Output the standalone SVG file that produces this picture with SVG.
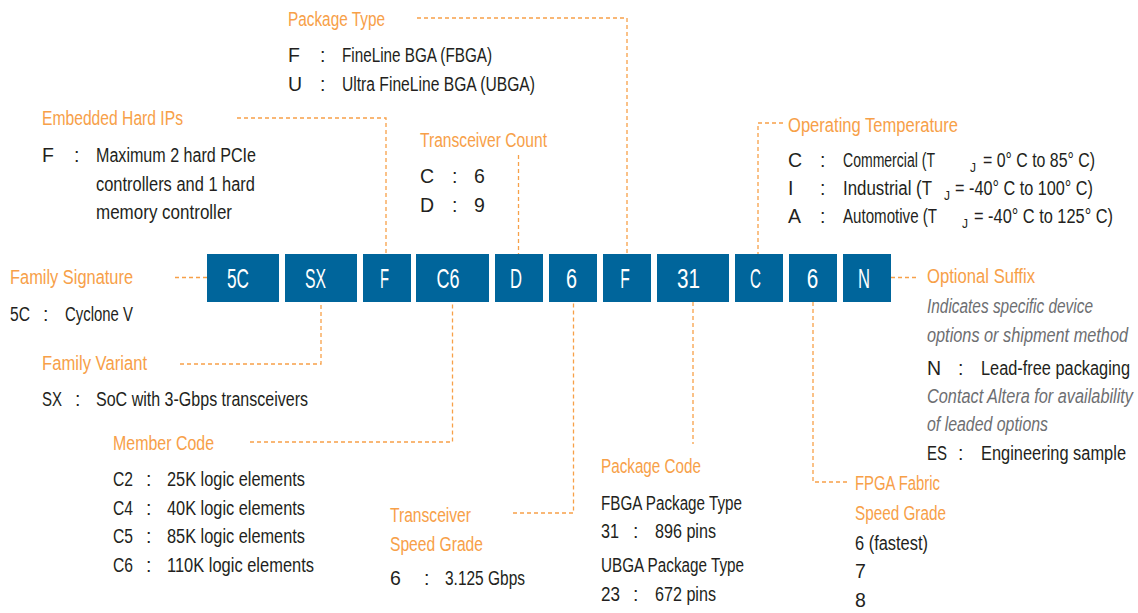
<svg xmlns="http://www.w3.org/2000/svg" width="1138" height="613" viewBox="0 0 1138 613">
<style>
text{font-family:"Liberation Sans Narrow","Liberation Sans",Arial,sans-serif;font-size:19.5px;fill:#231f20}
.h{fill:#f7a048}
.i{fill:#6d6e71;font-style:italic}
.sub{font-size:12px}
.box rect{fill:#00659b}
.box text{fill:#ffffff;font-size:28px;text-anchor:middle}
.c line,.c polyline{fill:none;stroke:#f7a048;stroke-width:1.3;stroke-dasharray:4 3}
</style>
<rect width="1138" height="613" fill="#ffffff"/>
<g class="c" id="connectors">
<polyline points="417,18 627,18 627,254"/>
<polyline points="237,118 386,118 386,254"/>
<line x1="518.5" y1="155" x2="518.5" y2="254"/>
<polyline points="783,123 758,123 758,254"/>
<line x1="175" y1="277.5" x2="207" y2="277.5"/>
<line x1="891" y1="277.5" x2="918" y2="277.5"/>
<polyline points="180,364 321,364 321,302"/>
<polyline points="250,442 452.5,442 452.5,302"/>
<polyline points="513,513 573.5,513 573.5,302"/>
<line x1="693" y1="302" x2="693" y2="444"/>
<polyline points="813,302 813,482 850,482"/>
</g>
<g class="box" id="box-5C"><rect x="207" y="254" width="72" height="48"/><text x="238" y="288" textLength="22" lengthAdjust="spacingAndGlyphs">5C</text></g>
<g class="box" id="box-SX"><rect x="285" y="254" width="72" height="48"/><text x="315.5" y="288" textLength="21" lengthAdjust="spacingAndGlyphs">SX</text></g>
<g class="box" id="box-F1"><rect x="363" y="254" width="48" height="48"/><text x="384.5" y="288" textLength="9" lengthAdjust="spacingAndGlyphs">F</text></g>
<g class="box" id="box-C6"><rect x="416" y="254" width="73" height="48"/><text x="448" y="288" textLength="23" lengthAdjust="spacingAndGlyphs">C6</text></g>
<g class="box" id="box-D"><rect x="495" y="254" width="48" height="48"/><text x="516" y="288" textLength="12" lengthAdjust="spacingAndGlyphs">D</text></g>
<g class="box" id="box-6a"><rect x="549" y="254" width="48" height="48"/><text x="571.5" y="288" textLength="11" lengthAdjust="spacingAndGlyphs">6</text></g>
<g class="box" id="box-F2"><rect x="603" y="254" width="48" height="48"/><text x="625" y="288" textLength="9.5" lengthAdjust="spacingAndGlyphs">F</text></g>
<g class="box" id="box-31"><rect x="657" y="254" width="72" height="48"/><text x="688.5" y="288" textLength="23" lengthAdjust="spacingAndGlyphs">31</text></g>
<g class="box" id="box-C"><rect x="735" y="254" width="48" height="48"/><text x="755.5" y="288" textLength="11" lengthAdjust="spacingAndGlyphs">C</text></g>
<g class="box" id="box-6b"><rect x="789" y="254" width="48" height="48"/><text x="812.5" y="288" textLength="11.5" lengthAdjust="spacingAndGlyphs">6</text></g>
<g class="box" id="box-N"><rect x="843" y="254" width="48" height="48"/><text x="864" y="288" textLength="12" lengthAdjust="spacingAndGlyphs">N</text></g>
<g id="package-type">
<text class="h" x="288" y="26" textLength="97" lengthAdjust="spacingAndGlyphs">Package Type</text>
<text x="288" y="62">F</text><text x="320" y="62">:</text><text x="342" y="62" textLength="150" lengthAdjust="spacingAndGlyphs">FineLine BGA (FBGA)</text>
<text x="288" y="91">U</text><text x="320" y="91">:</text><text x="342" y="91" textLength="193" lengthAdjust="spacingAndGlyphs">Ultra FineLine BGA (UBGA)</text>
</g>
<g id="embedded-hard-ips">
<text class="h" x="42" y="125" textLength="141" lengthAdjust="spacingAndGlyphs">Embedded Hard IPs</text>
<text x="42" y="162">F</text><text x="74" y="162">:</text>
<text x="96" y="162" textLength="160" lengthAdjust="spacingAndGlyphs">Maximum 2 hard PCIe</text>
<text x="96" y="190.5" textLength="159" lengthAdjust="spacingAndGlyphs">controllers and 1 hard</text>
<text x="96" y="219" textLength="136" lengthAdjust="spacingAndGlyphs">memory controller</text>
</g>
<g id="transceiver-count">
<text class="h" x="420" y="147" textLength="127" lengthAdjust="spacingAndGlyphs">Transceiver Count</text>
<text x="420" y="183">C</text><text x="452" y="183">:</text><text x="474" y="183">6</text>
<text x="420" y="212">D</text><text x="452" y="212">:</text><text x="474" y="212">9</text>
</g>
<g id="operating-temperature">
<text class="h" x="788" y="132" textLength="170" lengthAdjust="spacingAndGlyphs">Operating Temperature</text>
<text x="788" y="167">C</text><text x="820" y="167">:</text>
<text x="843" y="167" textLength="92" lengthAdjust="spacingAndGlyphs">Commercial (T</text><text class="sub" x="970" y="172">J</text>
<text x="983" y="167" textLength="112" lengthAdjust="spacingAndGlyphs">= 0° C to 85° C)</text>
<text x="788" y="195">I</text><text x="820" y="195">:</text>
<text x="843" y="195" textLength="89" lengthAdjust="spacingAndGlyphs">Industrial (T</text><text class="sub" x="944" y="200">J</text>
<text x="955" y="195" textLength="138" lengthAdjust="spacingAndGlyphs">= -40° C to 100° C)</text>
<text x="788" y="223">A</text><text x="820" y="223">:</text>
<text x="843" y="223" textLength="94" lengthAdjust="spacingAndGlyphs">Automotive (T</text><text class="sub" x="962" y="228">J</text>
<text x="974" y="223" textLength="139" lengthAdjust="spacingAndGlyphs">= -40° C to 125° C)</text>
</g>
<g id="family-signature">
<text class="h" x="10" y="284" textLength="123" lengthAdjust="spacingAndGlyphs">Family Signature</text>
<text x="10" y="321" textLength="20" lengthAdjust="spacingAndGlyphs">5C</text><text x="43" y="321">:</text>
<text x="65" y="321" textLength="68" lengthAdjust="spacingAndGlyphs">Cyclone V</text>
</g>
<g id="family-variant">
<text class="h" x="42" y="370" textLength="105" lengthAdjust="spacingAndGlyphs">Family Variant</text>
<text x="42" y="406" textLength="20" lengthAdjust="spacingAndGlyphs">SX</text><text x="75" y="406">:</text>
<text x="96" y="406" textLength="212" lengthAdjust="spacingAndGlyphs">SoC with 3-Gbps transceivers</text>
</g>
<g id="member-code">
<text class="h" x="113" y="450" textLength="101" lengthAdjust="spacingAndGlyphs">Member Code</text>
<text x="113" y="486" textLength="20" lengthAdjust="spacingAndGlyphs">C2</text><text x="146" y="486">:</text><text x="167" y="486" textLength="138" lengthAdjust="spacingAndGlyphs">25K logic elements</text>
<text x="113" y="515" textLength="20" lengthAdjust="spacingAndGlyphs">C4</text><text x="146" y="515">:</text><text x="167" y="515" textLength="138" lengthAdjust="spacingAndGlyphs">40K logic elements</text>
<text x="113" y="543" textLength="20" lengthAdjust="spacingAndGlyphs">C5</text><text x="146" y="543">:</text><text x="167" y="543" textLength="138" lengthAdjust="spacingAndGlyphs">85K logic elements</text>
<text x="113" y="572" textLength="20" lengthAdjust="spacingAndGlyphs">C6</text><text x="146" y="572">:</text><text x="167" y="572" textLength="147" lengthAdjust="spacingAndGlyphs">110K logic elements</text>
</g>
<g id="transceiver-speed-grade">
<text class="h" x="390" y="522" textLength="81" lengthAdjust="spacingAndGlyphs">Transceiver</text>
<text class="h" x="390" y="551" textLength="93" lengthAdjust="spacingAndGlyphs">Speed Grade</text>
<text x="390" y="585">6</text><text x="424" y="585">:</text>
<text x="445" y="585" textLength="80" lengthAdjust="spacingAndGlyphs">3.125 Gbps</text>
</g>
<g id="package-code">
<text class="h" x="601" y="473" textLength="100" lengthAdjust="spacingAndGlyphs">Package Code</text>
<text x="601" y="510" textLength="141" lengthAdjust="spacingAndGlyphs">FBGA Package Type</text>
<text x="601" y="538" textLength="18" lengthAdjust="spacingAndGlyphs">31</text><text x="633" y="538">:</text>
<text x="655" y="538" textLength="61" lengthAdjust="spacingAndGlyphs">896 pins</text>
<text x="601" y="572" textLength="143" lengthAdjust="spacingAndGlyphs">UBGA Package Type</text>
<text x="601" y="601" textLength="19" lengthAdjust="spacingAndGlyphs">23</text><text x="633" y="601">:</text>
<text x="655" y="601" textLength="61" lengthAdjust="spacingAndGlyphs">672 pins</text>
</g>
<g id="fpga-fabric-speed-grade">
<text class="h" x="855" y="490" textLength="85" lengthAdjust="spacingAndGlyphs">FPGA Fabric</text>
<text class="h" x="855" y="520" textLength="91" lengthAdjust="spacingAndGlyphs">Speed Grade</text>
<text x="855" y="550" textLength="73" lengthAdjust="spacingAndGlyphs">6 (fastest)</text>
<text x="855" y="578">7</text>
<text x="855" y="607">8</text>
</g>
<g id="optional-suffix">
<text class="h" x="927" y="283" textLength="108" lengthAdjust="spacingAndGlyphs">Optional Suffix</text>
<text class="i" x="927" y="313" textLength="166" lengthAdjust="spacingAndGlyphs">Indicates specific device</text>
<text class="i" x="927" y="341.5" textLength="201" lengthAdjust="spacingAndGlyphs">options or shipment method</text>
<text x="927" y="375">N</text><text x="958" y="375">:</text>
<text x="981" y="375" textLength="149" lengthAdjust="spacingAndGlyphs">Lead-free packaging</text>
<text class="i" x="927" y="403" textLength="206" lengthAdjust="spacingAndGlyphs">Contact Altera for availability</text>
<text class="i" x="927" y="431" textLength="121" lengthAdjust="spacingAndGlyphs">of leaded options</text>
<text x="927" y="460" textLength="20" lengthAdjust="spacingAndGlyphs">ES</text><text x="958" y="460">:</text>
<text x="981" y="460" textLength="145" lengthAdjust="spacingAndGlyphs">Engineering sample</text>
</g>
</svg>
